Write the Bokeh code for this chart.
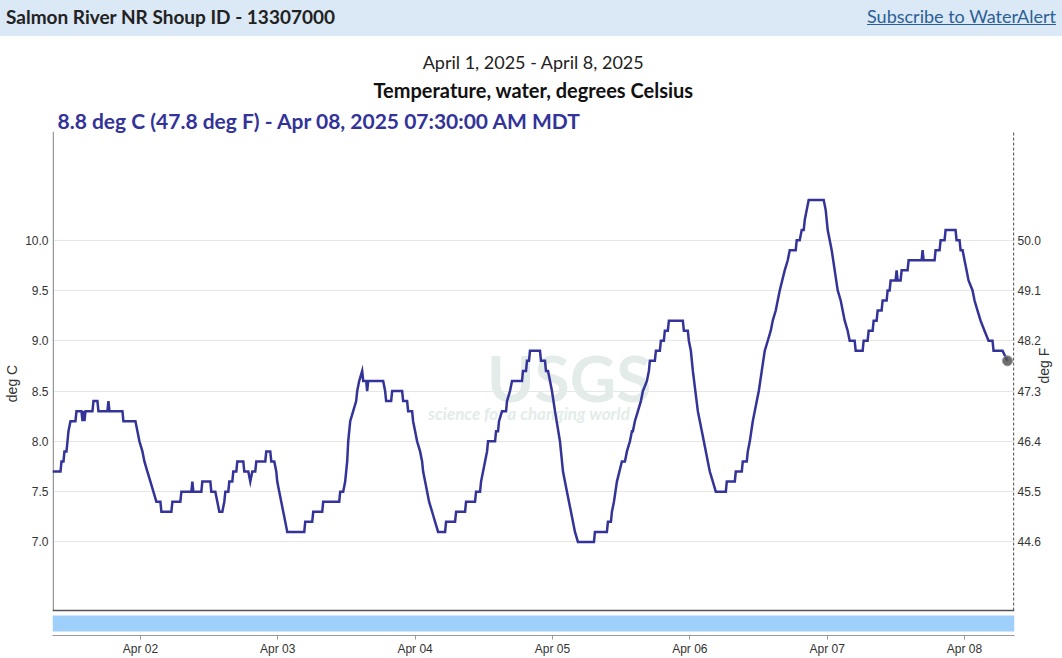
import math
from datetime import datetime, timedelta
from bokeh.plotting import figure
from bokeh.models import (Range1d, LinearAxis, FixedTicker, NumeralTickFormatter,
                          DatetimeTickFormatter, Label, Div, Title)
from bokeh.layouts import column
from bokeh.embed import file_html
from bokeh.resources import INLINE

# ---------------- texts ----------------
STATION = "Salmon River NR Shoup ID - 13307000"
LINK = "Subscribe to WaterAlert"
PERIOD = "April 1, 2025 - April 8, 2025"
PARAM = "Temperature, water, degrees Celsius"
LATEST = "8.8 deg C (47.8 deg F) - Apr 08, 2025 07:30:00 AM MDT"
Y_LABEL_C = "deg C"
Y_LABEL_F = "deg F"

# ---------------- ticks ----------------
tick_days = ["2025-04-02", "2025-04-03", "2025-04-04", "2025-04-05",
             "2025-04-06", "2025-04-07", "2025-04-08"]
c_ticks = [7.0, 7.5, 8.0, 8.5, 9.0, 9.5, 10.0]
f_ticks = [44.6, 45.5, 46.4, 47.3, 48.2, 49.1, 50.0]

# ---------------- data: hours after 2025-04-01 00:00, water temperature deg C ----------------
hours = [
    8.64, 10.04, 10.21, 10.56, 10.73, 11.08, 11.26, 11.43, 11.78, 12.65,
    12.83, 13.70, 13.88, 14.05, 14.23, 14.40, 15.62, 15.80, 16.49, 16.67,
    18.24, 18.41, 18.59, 20.86, 21.03, 23.13, 23.48, 23.83, 24.35, 24.70,
    25.22, 25.75, 26.27, 26.79, 27.49, 27.67, 29.41, 29.59, 30.98, 31.16,
    32.90, 33.08, 33.25, 34.65, 34.82, 36.22, 36.39, 37.09, 37.44, 37.79,
    38.31, 38.66, 38.84, 39.36, 39.53, 40.06, 40.23, 40.76, 40.93, 41.98,
    42.15, 42.85, 43.20, 43.55, 44.07, 44.25, 45.82, 45.99, 46.69, 46.87,
    47.39, 47.74, 47.91, 48.26, 48.61, 48.96, 49.31, 49.66, 52.63, 52.80,
    54.02, 54.20, 55.77, 55.94, 58.74, 58.91, 59.43, 59.78, 60.13, 60.31,
    60.66, 61.18, 61.70, 61.88, 62.23, 62.75, 62.93, 63.45, 63.62, 63.80,
    66.42, 66.76, 66.94, 67.81, 67.99, 69.73, 69.91, 70.60, 70.78, 71.48,
    71.65, 72.00, 72.35, 72.87, 73.22, 73.40, 73.75, 74.10, 74.44, 74.97,
    75.49, 76.02, 77.24, 77.41, 78.98, 79.16, 80.73, 80.90, 82.47, 82.65,
    83.35, 83.52, 83.87, 84.22, 84.57, 84.74, 85.97, 86.14, 86.49, 86.66,
    87.19, 87.89, 88.06, 88.58, 88.93, 90.68, 90.85, 91.38, 91.55, 91.90,
    92.07, 93.82, 93.99, 94.69, 94.87, 95.22, 95.57, 95.91, 96.44, 97.31,
    97.84, 98.18, 98.53, 98.88, 99.23, 99.58, 99.93, 100.45, 103.25, 103.42,
    105.51, 105.69, 106.21, 106.39, 106.74, 107.26, 108.13, 108.66, 109.01, 109.53,
    109.88, 110.05, 110.40, 110.93, 111.45, 111.80, 112.50, 112.85, 113.02, 113.89,
    114.07, 114.77, 114.94, 115.46, 115.64, 116.16, 116.34, 118.78, 118.96, 119.65,
    119.83, 120.18, 120.53, 121.40, 122.10, 122.80, 123.14, 123.49, 124.02, 124.54,
    126.29, 126.46, 127.86, 128.03, 129.08, 129.25, 129.95, 130.13, 130.48, 131.00,
    131.70, 132.05, 132.57, 133.09, 133.62, 134.14, 134.49, 135.01, 135.71, 136.58,
    137.11, 137.46, 138.50, 138.68, 139.20, 139.55, 139.90, 140.08, 140.42, 140.77,
    143.39, 143.74, 144.09, 144.79, 145.84, 146.36, 147.06, 147.58, 147.93, 148.80,
    148.98, 150.20, 150.37, 151.07, 151.25, 151.94, 152.12, 152.64, 152.82, 153.51,
    153.69, 154.39, 154.56, 154.91, 155.09, 155.96, 156.13, 156.31, 156.83, 157.01,
    158.05, 158.23, 160.50, 160.67, 160.85, 162.77, 162.94, 163.64, 163.82, 164.51,
    164.69, 166.43, 166.61, 167.13, 167.31, 167.66, 168.00, 168.35, 168.70, 169.40,
    169.75, 170.27, 170.80, 171.49, 172.19, 172.89, 173.07, 174.64, 175.50,
]
temp_c = [
    7.7, 7.7, 7.8, 7.8, 7.9, 7.9, 8.0, 8.1, 8.2, 8.2,
    8.3, 8.3, 8.2, 8.3, 8.2, 8.3, 8.3, 8.4, 8.4, 8.3,
    8.3, 8.4, 8.3, 8.3, 8.2, 8.2, 8.1, 8.0, 7.9, 7.8,
    7.7, 7.6, 7.5, 7.4, 7.4, 7.3, 7.3, 7.4, 7.4, 7.5,
    7.5, 7.6, 7.5, 7.5, 7.6, 7.6, 7.5, 7.5, 7.4, 7.3,
    7.3, 7.4, 7.5, 7.5, 7.6, 7.6, 7.7, 7.7, 7.8, 7.8,
    7.7, 7.7, 7.6, 7.7, 7.7, 7.8, 7.8, 7.9, 7.9, 7.8,
    7.8, 7.7, 7.6, 7.5, 7.4, 7.3, 7.2, 7.1, 7.1, 7.2,
    7.2, 7.3, 7.3, 7.4, 7.4, 7.5, 7.5, 7.6, 7.8, 8.0,
    8.2, 8.3, 8.4, 8.5, 8.6, 8.7, 8.6, 8.6, 8.5, 8.6,
    8.6, 8.5, 8.4, 8.4, 8.5, 8.5, 8.4, 8.4, 8.3, 8.3,
    8.2, 8.1, 8.0, 7.9, 7.8, 7.7, 7.6, 7.5, 7.4, 7.3,
    7.2, 7.1, 7.1, 7.2, 7.2, 7.3, 7.3, 7.4, 7.4, 7.5,
    7.5, 7.6, 7.7, 7.8, 7.9, 8.0, 8.0, 8.1, 8.1, 8.2,
    8.3, 8.3, 8.4, 8.5, 8.6, 8.6, 8.7, 8.7, 8.8, 8.8,
    8.9, 8.9, 8.8, 8.8, 8.7, 8.7, 8.6, 8.5, 8.3, 8.0,
    7.7, 7.6, 7.5, 7.4, 7.3, 7.2, 7.1, 7.0, 7.0, 7.1,
    7.1, 7.2, 7.2, 7.3, 7.4, 7.6, 7.8, 7.8, 7.9, 8.0,
    8.1, 8.1, 8.2, 8.3, 8.4, 8.5, 8.6, 8.7, 8.8, 8.8,
    8.9, 8.9, 9.0, 9.0, 9.1, 9.1, 9.2, 9.2, 9.1, 9.1,
    9.0, 8.9, 8.7, 8.3, 8.1, 7.9, 7.8, 7.7, 7.6, 7.5,
    7.5, 7.6, 7.6, 7.7, 7.7, 7.8, 7.8, 7.9, 8.0, 8.2,
    8.4, 8.5, 8.7, 8.9, 9.0, 9.1, 9.2, 9.3, 9.5, 9.7,
    9.8, 9.9, 9.9, 10.0, 10.0, 10.1, 10.1, 10.2, 10.3, 10.4,
    10.4, 10.3, 10.1, 9.9, 9.5, 9.4, 9.2, 9.1, 9.0, 9.0,
    8.9, 8.9, 9.0, 9.0, 9.1, 9.1, 9.2, 9.2, 9.3, 9.3,
    9.4, 9.4, 9.5, 9.5, 9.6, 9.6, 9.7, 9.6, 9.6, 9.7,
    9.7, 9.8, 9.8, 9.9, 9.8, 9.8, 9.9, 9.9, 10.0, 10.0,
    10.1, 10.1, 10.0, 10.0, 9.9, 9.9, 9.8, 9.7, 9.6, 9.5,
    9.4, 9.3, 9.2, 9.1, 9.0, 9.0, 8.9, 8.9, 8.8,
]

# ---------------- helpers ----------------
BASE = datetime(2025, 4, 1)
EPOCH = datetime(1970, 1, 1)


def to_ms(dt):
    return (dt - EPOCH).total_seconds() * 1000.0


t_ms = [to_ms(BASE + timedelta(hours=h)) for h in hours]
tick_ms = [to_ms(datetime.strptime(d, "%Y-%m-%d")) for d in tick_days]

# ---------------- layout constants ----------------
FRAME_W, FRAME_H = 963, 505
X_START = to_ms(BASE + timedelta(hours=8.64))
X_END = to_ms(BASE + timedelta(hours=176.73))
Y_START, Y_END = 6.07, 11.08
PX_X = FRAME_W / (X_END - X_START)
PX_Y = FRAME_H / (Y_END - Y_START)
PLOT_BOTTOM = Y_START + 25 / PX_Y      # border of the plotting area
BAR_BOTTOM = Y_START + 4 / PX_Y
BAR_TOP = Y_START + 20 / PX_Y

LINE_COLOR = "#333399"
FONT = "Lato"
AXFONT = "Liberation Sans"


def xr(px):  # reference-screen x -> data x
    return X_START + (px - 52) / PX_X


def yr(py):  # reference-screen y -> data y (frame top at 131)
    return Y_END - (py - 131) / PX_Y


# ---------------- header ----------------
header = Div(
    text=(
        '<div style="display:flex;justify-content:space-between;align-items:center;'
        'box-sizing:border-box;width:1062px;height:36px;background:#dbe8f6;'
        'padding:0 6px 2px 6px;font-family:Lato, sans-serif;">'
        f'<span style="font-weight:bold;font-size:19px;color:#222;">{STATION}</span>'
        f'<span style="font-size:18px;color:#2b5f94;text-decoration:underline;">{LINK}</span>'
        '</div>'
    ),
    width=1062, height=36, margin=(0, 0, 0, 0),
)

# ---------------- figure ----------------
p = figure(width=1062, height=622, x_axis_type="datetime", title=None,
           x_range=Range1d(X_START, X_END), y_range=Range1d(Y_START, Y_END),
           output_backend="svg", toolbar_location=None,
           min_border_left=52, min_border_right=47, min_border_top=95, min_border_bottom=22)
p.outline_line_color = None
p.background_fill_color = "white"
p.border_fill_color = "white"

p.extra_y_ranges = {"F": Range1d(Y_START * 1.8 + 32, Y_END * 1.8 + 32)}

# x axis
p.xaxis.ticker = FixedTicker(ticks=tick_ms)
p.xaxis.formatter = DatetimeTickFormatter(days="%b %d", months="%b %d", hours="%b %d",
                                          years="%b %d")
p.xaxis.axis_line_color = "#999999"
p.xaxis.major_tick_line_color = "#999999"
p.xaxis.major_tick_in = 0
p.xaxis.major_tick_out = 4
p.xaxis.minor_tick_line_color = None
p.xaxis.minor_tick_out = 0
p.xaxis.major_label_standoff = 2
p.xaxis.major_label_text_font = AXFONT
p.xaxis.major_label_text_font_size = "12px"
p.xaxis.major_label_text_color = "#333333"

# left axis
p.yaxis.ticker = FixedTicker(ticks=c_ticks)
p.yaxis.formatter = NumeralTickFormatter(format="0.0")
p.yaxis.axis_line_color = None
p.yaxis.major_tick_line_color = None
p.yaxis.minor_tick_line_color = None
p.yaxis.major_tick_in = 0
p.yaxis.major_tick_out = 0
p.yaxis.minor_tick_in = 0
p.yaxis.minor_tick_out = 0
p.yaxis.major_label_standoff = 4
p.yaxis.major_label_text_font = AXFONT
p.yaxis.major_label_text_font_size = "12px"
p.yaxis.major_label_text_color = "#333333"
p.yaxis.axis_label = Y_LABEL_C
p.yaxis.axis_label_standoff = 2
p.yaxis.axis_label_text_font = AXFONT
p.yaxis.axis_label_text_font_size = "14px"
p.yaxis.axis_label_text_font_style = "normal"
p.yaxis.axis_label_text_color = "#333333"

# right axis (deg F)
ax_f = LinearAxis(y_range_name="F", ticker=FixedTicker(ticks=f_ticks),
                  formatter=NumeralTickFormatter(format="0.0"))
ax_f.axis_line_color = None
ax_f.major_tick_line_color = None
ax_f.minor_tick_line_color = None
ax_f.major_tick_in = 0
ax_f.major_tick_out = 0
ax_f.minor_tick_in = 0
ax_f.minor_tick_out = 0
ax_f.major_label_standoff = 3
ax_f.major_label_text_font = AXFONT
ax_f.major_label_text_font_size = "12px"
ax_f.major_label_text_color = "#333333"
ax_f.axis_label = Y_LABEL_F
ax_f.axis_label_standoff = 0
ax_f.axis_label_orientation = math.pi / 2
ax_f.axis_label_text_font = AXFONT
ax_f.axis_label_text_font_size = "14px"
ax_f.axis_label_text_font_style = "normal"
ax_f.axis_label_text_color = "#333333"
p.add_layout(ax_f, "right")

p.xgrid.visible = False
p.ygrid.ticker = FixedTicker(ticks=c_ticks)
p.ygrid.grid_line_color = "#e6e6e6"
p.ygrid.grid_line_width = 1

# watermark
p.add_layout(Label(x=xr(487), y=yr(377), text="USGS", text_align="left", text_baseline="middle",
                   text_font=FONT, text_font_size="64px", text_font_style="bold",
                   text_color="#e3ece9", level="underlay"))
p.add_layout(Label(x=xr(428), y=yr(414), text="science for a changing world", text_align="left",
                   text_baseline="middle", text_font=FONT, text_font_size="17px",
                   text_font_style="bold italic", text_color="#e3ece9", level="underlay"))

# frame borders and navigator bar
eps = 0.75 / PX_X
p.segment(x0=[X_START + eps], y0=[PLOT_BOTTOM], x1=[X_START + eps], y1=[Y_END],
          line_color="#999999", line_width=1.5)
p.segment(x0=[X_END - eps], y0=[PLOT_BOTTOM], x1=[X_END - eps], y1=[Y_END],
          line_color="#333333", line_width=1, line_dash="3 2")
p.segment(x0=[X_START], y0=[PLOT_BOTTOM], x1=[X_END], y1=[PLOT_BOTTOM],
          line_color="#555555", line_width=1.5)
p.quad(left=[X_START], right=[X_END], bottom=[BAR_BOTTOM], top=[BAR_TOP],
       fill_color="#9fcffb", line_color=None)

# data
p.line(t_ms, temp_c, line_color=LINE_COLOR, line_width=2.5, line_join="miter")
p.scatter(x=[t_ms[-1]], y=[temp_c[-1]], size=10, fill_color="#555555", fill_alpha=0.85,
          line_color="#999999", line_width=1)

# titles (first added sits closest to the plot)
p.add_layout(Title(text=LATEST, align="left", offset=5, standoff=-2, text_font=FONT,
                   text_font_size="21px", text_font_style="bold", text_color=LINE_COLOR),
             "above")
p.add_layout(Title(text=PARAM, align="center", standoff=10, text_font=FONT,
                   text_font_size="20px", text_font_style="bold", text_color="#111111"),
             "above")
p.add_layout(Title(text=PERIOD, align="center", standoff=-4, text_font=FONT,
                   text_font_size="18px", text_font_style="normal", text_color="#222222"),
             "above")

layout = column(header, p)
open("out.html", "w").write(file_html(layout, INLINE))
